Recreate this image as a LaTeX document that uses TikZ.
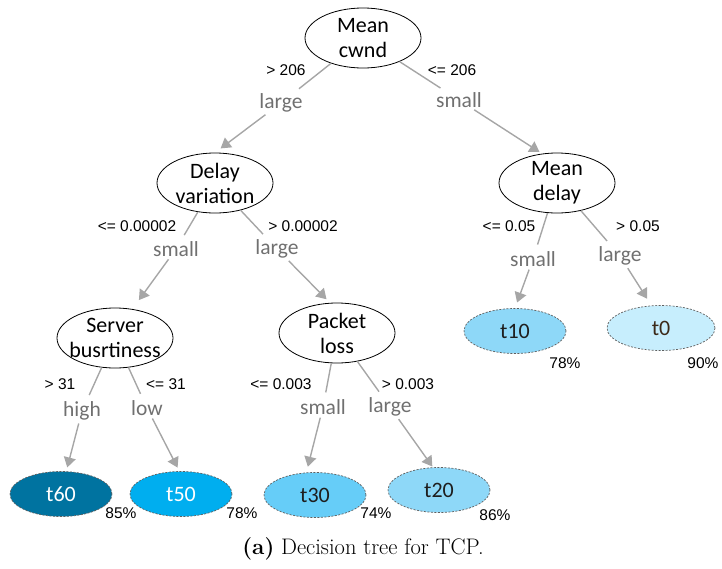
\documentclass[tikz,border=0pt]{standalone}
\usepackage{fontspec}
\newfontfamily\carl{Carlito}
\newfontfamily\lib{Liberation Sans}
\usetikzlibrary{shapes.geometric,arrows.meta}
\definecolor{c60}{RGB}{0,115,160}
\definecolor{c50}{RGB}{0,174,239}
\definecolor{c30}{RGB}{102,205,248}
\definecolor{c20}{RGB}{142,216,248}
\definecolor{c0}{RGB}{199,238,253}
\definecolor{edgegray}{RGB}{166,166,166}
\definecolor{lblgray}{RGB}{112,112,112}
\definecolor{leafborder}{RGB}{95,95,95}
\definecolor{darktext}{RGB}{30,30,30}
\definecolor{browntext}{RGB}{60,42,25}
\tikzset{
  split/.style={ellipse, draw=black, line width=0.8pt, fill=white,
    minimum width=116pt, minimum height=60pt, inner sep=-5pt, align=center,
    font=\carl\fontsize{22}{25}\selectfont},
  leaf/.style={ellipse, draw=leafborder, dash pattern=on 2pt off 1.5pt,
    line width=0.7pt, minimum width=102pt, minimum height=45pt, inner sep=0pt,
    font=\carl\fontsize{22}{25}\selectfont},
  branch/.style={text=lblgray, font=\carl\fontsize{21.5}{24}\selectfont, inner sep=1pt},
  thr/.style={font=\lib\fontsize{15.5}{18}\selectfont, inner sep=0pt},
  conn/.style={draw=edgegray, line width=1.4pt},
  arr/.style={conn, -{Triangle[width=12pt,length=10pt]}},
}
\begin{document}
\begin{tikzpicture}[x=1pt,y=-1pt]
\path[use as bounding box] (0,0) rectangle (722,568);
% split nodes
\node[split] (mc) at (363,38) {Mean\\cwnd};
\node[split] (dv) at (215,183) {Delay\\variation};
\node[split] (md) at (557,183) {Mean\\delay};
\node[split] (sb) at (115,338) {Server\\busrtiness};
\node[split] (pl) at (337,333) {Packet\\loss};
% leaves
\node[leaf, fill=c60, text=white] (t60) at (61,494) {t60};
\node[leaf, fill=c50, text=white] (t50) at (181,494) {t50};
\node[leaf, fill=c30, text=darktext] (t30) at (315,495) {t30};
\node[leaf, fill=c20, text=darktext] (t20) at (439,490) {t20};
\node[leaf, fill=c20, text=darktext] (t10) at (515,331) {t10};
\node[leaf, fill=c0, text=browntext, minimum width=108pt] (t0) at (661,328) {t0};
% branch labels
\node[branch] (l1) at (281,103) {large};
\node[branch] (l2) at (459,100) {small};
\node[branch] (l3) at (176,249) {small};
\node[branch] (l4) at (277,249) {large};
\node[branch] (l5) at (533,259) {small};
\node[branch] (l6) at (620,256) {large};
\node[branch] (l7) at (82,411) {high};
\node[branch] (l8) at (147,408) {low};
\node[branch] (l9) at (323,407) {small};
\node[branch] (l10) at (390,407) {large};
% thresholds
\node[thr] (h1) at (286,70) {> 206};
\node[thr] (h2) at (452,70) {<= 206};
\node[thr] (h3) at (137,226) {<= 0.00002};
\node[thr] (h4) at (303,226) {> 0.00002};
\node[thr] (h5) at (509,226) {<= 0.05};
\node[thr] (h6) at (638,226) {> 0.05};
\node[thr] (h7) at (60,384) {> 31};
\node[thr] (h8) at (166,384) {<= 31};
\node[thr] (h9) at (281,384) {<= 0.003};
\node[thr] (h10) at (408,384) {> 0.003};
% percentages
\node[thr] (p60) at (121,513) {85\%};
\node[thr] (p50) at (242,513) {78\%};
\node[thr] (p30) at (376,513) {74\%};
\node[thr] (p20) at (495,515) {86\%};
\node[thr] (p10) at (565,363) {78\%};
\node[thr] (p0) at (703,363) {90\%};
% connectors
\draw[conn, shorten >=6pt] (mc) -- (l1);
\draw[arr, shorten <=2pt, shorten >=7pt] (l1) -- (dv.north);
\draw[conn, shorten >=6pt] (mc) -- (l2);
\draw[arr, shorten <=2pt, shorten >=3pt] (l2) -- (md.117);
\draw[conn, shorten >=6pt] (dv) -- (l3);
\draw[arr, shorten <=2pt, shorten >=11pt] (l3) -- (sb.59);
\draw[conn, shorten >=6pt] (dv) -- (l4);
\draw[arr, shorten <=2pt, shorten >=5pt] (l4) -- (pl.103);
\draw[conn, shorten >=6pt] (md) -- (l5);
\draw[arr, shorten <=2pt, shorten >=6pt] (l5) -- (t10.north);
\draw[conn, shorten >=6pt] (md) -- (l6);
\draw[arr, shorten <=2pt, shorten >=8pt] (l6) -- (t0.113);
\draw[conn, shorten >=6pt] (sb) -- (l7);
\draw[arr, shorten <=2pt, shorten >=4pt] (l7) -- (t60.77);
\draw[conn, shorten >=6pt] (sb) -- (l8);
\draw[arr, shorten <=2pt, shorten >=4pt] (l8) -- (t50.94);
\draw[conn, shorten >=6pt] (pl) -- (l9);
\draw[arr, shorten <=2pt, shorten >=6pt] (l9) -- (t30.111);
\draw[conn, shorten >=6pt] (pl) -- (l10);
\draw[arr, shorten <=2pt, shorten >=1pt] (l10) -- (t20.105);
% caption
\node[font=\fontsize{22.5}{26}\selectfont] (cap) at (363,549) {\textbf{(a)} Decision tree for TCP.};
\end{tikzpicture}
\end{document}
